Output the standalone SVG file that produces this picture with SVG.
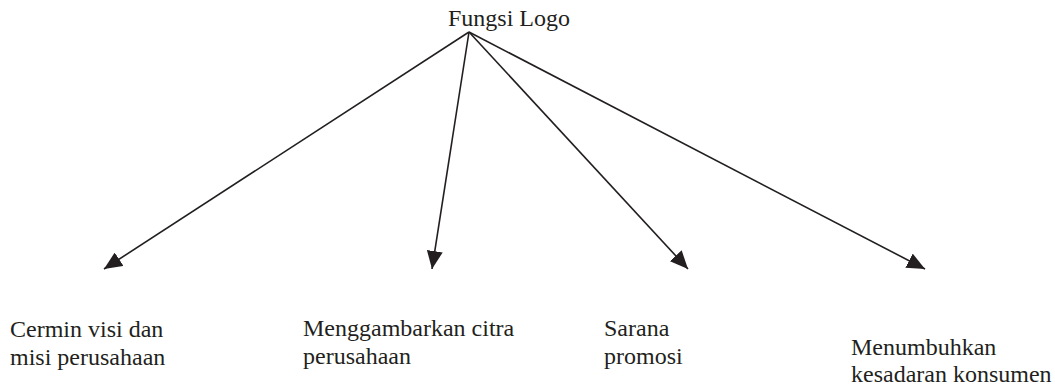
<svg xmlns="http://www.w3.org/2000/svg" width="1055" height="389" viewBox="0 0 1055 389">
  <style>
    .lbl { font-family: "Liberation Serif", "Times New Roman", serif; font-size: 24px; fill: #231f20; }
    .edge { stroke: #231f20; stroke-width: 1.6; fill: none; marker-end: url(#head); }
  </style>
  <defs>
    <marker id="head" markerUnits="userSpaceOnUse" markerWidth="20" markerHeight="16" refX="18" refY="8" orient="auto">
      <path d="M0,0 L18,8 L0,16 Z" fill="#231f20"/>
    </marker>
  </defs>
  <rect width="1055" height="389" fill="#ffffff"/>

  <g id="root">
    <text class="lbl" x="448" y="26">Fungsi Logo</text>
  </g>

  <g id="connectors">
    <line class="edge" x1="469" y1="32" x2="104" y2="269"/>
    <line class="edge" x1="469" y1="32" x2="432" y2="269"/>
    <line class="edge" x1="469" y1="32" x2="688" y2="269"/>
    <line class="edge" x1="469" y1="32" x2="925" y2="269"/>
  </g>

  <g id="cermin">
    <text class="lbl" x="10" y="337">Cermin visi dan</text>
    <text class="lbl" x="10" y="365">misi perusahaan</text>
  </g>
  <g id="citra">
    <text class="lbl" x="303" y="336">Menggambarkan citra</text>
    <text class="lbl" x="303" y="364">perusahaan</text>
  </g>
  <g id="promosi">
    <text class="lbl" x="604" y="336">Sarana</text>
    <text class="lbl" x="604" y="364">promosi</text>
  </g>
  <g id="kesadaran">
    <text class="lbl" x="851" y="355">Menumbuhkan</text>
    <text class="lbl" x="851" y="382">kesadaran konsumen</text>
  </g>
</svg>
